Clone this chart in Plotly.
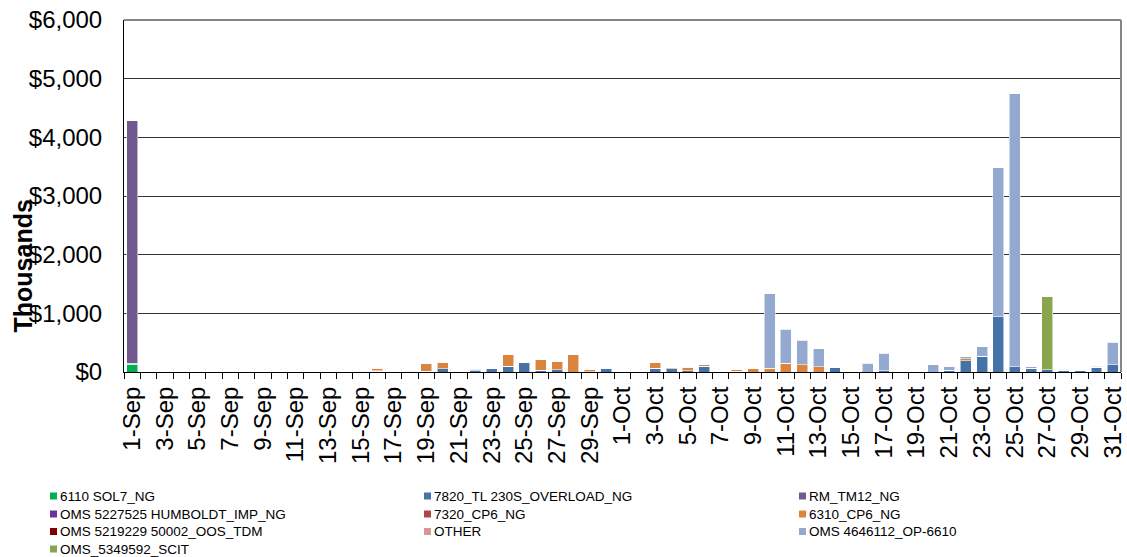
import plotly.graph_objects as go
import pandas as pd

dates = pd.date_range("2013-09-01", "2013-10-31", freq="D")
n = len(dates)

def series(d):
    v = [0] * n
    for k, val in d.items():
        v[k] = val
    return v

# values in $ thousands, index 0 = 1-Sep, 30 = 1-Oct
sol7 = series({0: 130})
tl230 = series({0: 20, 15: 15, 18: 12, 19: 55, 21: 20, 22: 60, 23: 100, 24: 165, 25: 30, 26: 35,
                28: 5, 29: 65, 32: 68, 33: 52, 34: 20, 35: 100, 37: 10, 43: 78, 46: 25, 47: 5,
                50: 30, 51: 190, 52: 270, 53: 940, 54: 90, 55: 62, 56: 40, 57: 28, 58: 22,
                59: 80, 60: 125})
rm_tm12 = series({0: 4140})
humboldt = series({})
cp6_7320 = series({15: 8, 57: 8})
cp6_6310 = series({15: 35, 18: 135, 19: 110, 23: 190, 25: 175, 26: 150, 27: 295, 28: 40,
                   32: 92, 33: 33, 34: 55, 35: 20, 37: 40, 38: 60, 39: 65, 40: 145, 41: 125,
                   42: 90, 51: 35})
oos_tdm = series({2: 3, 3: 3, 4: 3, 5: 3, 9: 5, 10: 5, 11: 5, 17: 10, 31: 5})
other = series({6: 10, 14: 10, 15: 8, 34: 10, 57: 10})
op6610 = series({21: 25, 22: 8, 39: 1268, 40: 585, 41: 417, 42: 305, 45: 147, 46: 292,
                 49: 125, 50: 61, 51: 35, 52: 160, 53: 2540, 54: 4650, 55: 29, 59: 22, 60: 385})
scit = series({56: 1245})

series_names = ["6110 SOL7_NG", "7820_TL 230S_OVERLOAD_NG", "RM_TM12_NG",
                "OMS 5227525 HUMBOLDT_IMP_NG", "7320_CP6_NG", "6310_CP6_NG",
                "OMS 5219229 50002_OOS_TDM", "OTHER", "OMS 4646112_OP-6610", "OMS_5349592_SCIT"]
series_values = [sol7, tl230, rm_tm12, humboldt, cp6_7320, cp6_6310, oos_tdm, other, op6610, scit]
series_colors = ["#00B050", "#4572A7", "#71588F", "#7030A0", "#AA4643", "#DB843D",
                 "#800000", "#D99694", "#93A9CF", "#89A54E"]

FONT = "Arial, Liberation Sans, sans-serif"
W, H = 1127, 557
ML, MR, MT, MB = 124, 6, 20, 185
PW, PH = W - ML - MR, H - MT - MB

fig = go.Figure()
for name, vals, col in zip(series_names, series_values, series_colors):
    fig.add_trace(go.Bar(x=dates, y=vals, name=name, marker_color=col, showlegend=False,
                         marker_line=dict(color="rgba(255,255,255,0.55)", width=1)))

fig.update_layout(
    width=W, height=H,
    margin=dict(l=ML, r=MR, t=MT, b=MB, autoexpand=False),
    barmode="stack", bargap=0.33,
    plot_bgcolor="white", paper_bgcolor="white",
    font=dict(family=FONT, color="black"),
    showlegend=False,
)

fig.update_xaxes(
    type="date", range=["2013-08-31 12:00", "2013-10-31 12:00"], automargin=False,
    tick0="2013-09-01", dtick=2 * 86400000, tickformat="%-d-%b", tickangle=-90,
    ticks="", showgrid=False, showline=True, linecolor="black", linewidth=1,
    tickfont=dict(size=24, family=FONT), ticklabelstandoff=4,
    minor=dict(tick0="2013-08-31 12:00", dtick=86400000, ticks="outside", ticklen=6,
               tickcolor="black", tickwidth=1, showgrid=False),
)
fig.update_yaxes(
    range=[0, 6000], dtick=1000, tickprefix="$", tickformat=",", ticks="", automargin=False,
    showgrid=True, gridcolor="#333333", gridwidth=1, zeroline=False,
    showline=True, linecolor="black", linewidth=1,
    tickfont=dict(size=24, family=FONT), ticklabelstandoff=16,
)

# plot area border (top and right) in gray
fig.add_shape(type="line", xref="paper", yref="paper", x0=0, x1=1, y0=1, y1=1,
              line=dict(color="#868686", width=2))
fig.add_shape(type="line", xref="paper", yref="paper", x0=1, x1=1, y0=0, y1=1,
              line=dict(color="#868686", width=2))

fig.add_annotation(text="<b>Thousands</b>", xref="paper", yref="paper",
                   x=(22.5 - ML) / PW, y=(MT + PH - 266) / PH, textangle=-90, showarrow=False,
                   font=dict(size=25, family=FONT, color="black"),
                   xanchor="center", yanchor="middle")

# legend (3 columns, row-major like the original)
col_x = [58, 432, 807]
row_y = [496, 514, 531.5, 549]
for k, (name, col) in enumerate(zip(series_names, series_colors)):
    r, c = divmod(k, 3)
    tx, ty = col_x[c], row_y[r]
    fx0 = (tx - 8 - ML) / PW
    fx1 = (tx - 1 - ML) / PW
    fy0 = (MT + PH - (ty + 3.5)) / PH
    fy1 = (MT + PH - (ty - 3.5)) / PH
    fig.add_shape(type="rect", xref="paper", yref="paper", x0=fx0, x1=fx1, y0=fy0, y1=fy1,
                  fillcolor=col, line=dict(width=0))
    fig.add_annotation(text=name, xref="paper", yref="paper",
                       x=(tx - ML) / PW, y=(MT + PH - ty) / PH, showarrow=False,
                       xanchor="left", yanchor="middle",
                       font=dict(size=13.5, family=FONT, color="black"))

fig.write_html("out.html", config={"displayModeBar": False},
               post_script="document.body.style.margin='0';document.body.style.overflow='hidden';")
